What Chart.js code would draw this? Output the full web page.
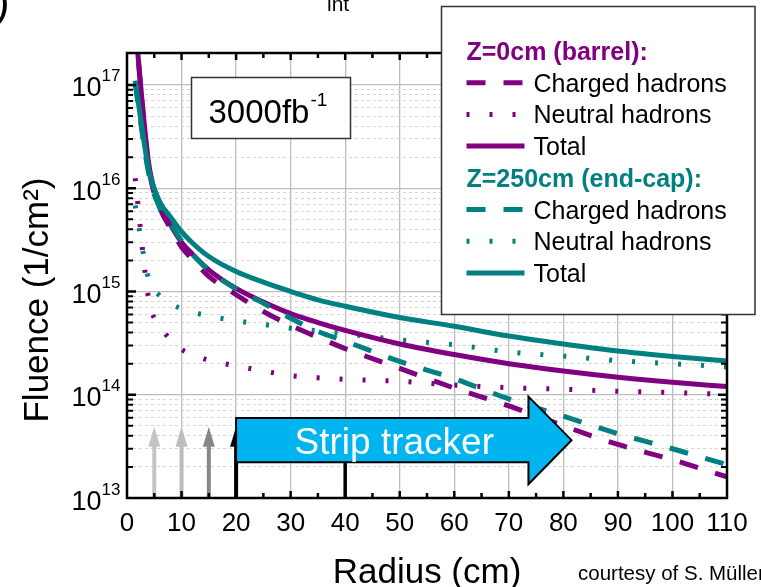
<!DOCTYPE html>
<html>
<head>
<meta charset="utf-8">
<title>Fluence vs radius</title>
<script src="https://cdn.jsdelivr.net/npm/chart.js@4.4.0/dist/chart.umd.min.js"></script>
<style>
    html, body { margin: 0; padding: 0; background: #fff; }
    #wrap { width: 761px; height: 587px; position: relative; overflow: hidden; }
</style>
</head>
<body>
<div id="wrap"><canvas id="fluenceChart" width="761" height="587"></canvas></div>
<script>
// Radius sampling points (cm)
const radius = [1.5, 4, 6, 8, 10, 12, 15, 20, 25, 30, 35, 40, 50, 60, 70, 80, 90, 100, 110];

// Z=0cm (barrel) fluence, 1/cm²
const barrelCharged = [3.7e17, 1.6e16, 6.5e15, 4.06e15, 2.7e15, 2.05e15, 1.4e15, 9.3e14, 6.4e14, 4.7e14, 3.6e14, 2.8e14, 1.8e14, 1.16e14, 7.8e13, 5.0e13, 3.3e13, 2.35e13, 1.6e13];
const barrelNeutral = [1.25e16, 8.3e14, 4.7e14, 3.4e14, 2.75e14, 2.45e14, 2.16e14, 1.9e14, 1.7e14, 1.53e14, 1.46e14, 1.41e14, 1.35e14, 1.24e14, 1.17e14, 1.13e14, 1.08e14, 1.05e14, 1.01e14];
const barrelTotal   = [3.8e17, 1.7e16, 7.0e15, 4.4e15, 3.0e15, 2.3e15, 1.62e15, 1.07e15, 7.9e14, 6.1e14, 5.0e14, 4.2e14, 3.1e14, 2.45e14, 2.0e14, 1.7e14, 1.48e14, 1.32e14, 1.2e14];

// Z=250cm (end-cap) fluence, 1/cm²
const endcapCharged = [1.03e17, 1.37e16, 6.45e15, 4.5e15, 3.1e15, 2.3e15, 1.6e15, 1.06e15, 7.7e14, 5.5e14, 4.1e14, 3.3e14, 2.1e14, 1.43e14, 9.1e13, 6.2e13, 4.2e13, 3.0e13, 2.1e13];
const endcapNeutral = [6.8e15, 1.3e15, 9.1e14, 7.6e14, 6.8e14, 6.3e14, 5.8e14, 5.2e14, 4.8e14, 4.4e14, 4.15e14, 3.9e14, 3.4e14, 3.05e14, 2.6e14, 2.37e14, 2.14e14, 2.0e14, 1.86e14];
const endcapTotal   = [1.1e17, 1.5e16, 7.4e15, 5.25e15, 3.8e15, 2.95e15, 2.18e15, 1.56e15, 1.23e15, 1.0e15, 8.3e14, 7.2e14, 5.6e14, 4.6e14, 3.7e14, 3.1e14, 2.65e14, 2.35e14, 2.12e14];

// Axis ticks
const xTickLabels = [0, 10, 20, 30, 40, 50, 60, 70, 80, 90, 100, 110];
const yDecades = [13, 14, 15, 16, 17];
const yMantissas = [1, 2, 3, 4, 5, 6, 7, 8, 9];

// Layer boundaries marked with arrows (cm)
const layerArrows = [5, 10, 15, 20];
const layerArrowColors = ['#c4c4c4', '#bdbdbd', '#878787', '#000000'];

const PURPLE = '#800080';
const TEAL = '#008080';
const DASHED = [19, 18];
const DOTTED = [3, 20];
const FONT = "'Liberation Sans', Arial, sans-serif";
const Y_MIN = 1e13, Y_MAX = 2.04e17;

const yTickValues = [];
yDecades.forEach(d => yMantissas.forEach(m => {
    const v = m * Math.pow(10, d);
    if (v >= Y_MIN && v < Y_MAX * 0.99) yTickValues.push(v);
}));

const isDecade = v => Math.abs(Math.log10(v) - Math.round(Math.log10(v))) < 1e-9;

function series(values) {
    return radius.map((r, i) => ({ x: r, y: values[i] }));
}

const legendGroups = [
    { title: 'Z=0cm (barrel):', color: PURPLE, sets: [0, 1, 2] },
    { title: 'Z=250cm (end-cap):', color: TEAL, sets: [3, 4, 5] }
];

// Arrows, boxes, frame, labels and legend on top of the curves
const decorPlugin = {
    id: 'fluenceDecor',
    afterDatasetsDraw(chart) {
        const { ctx, chartArea: area, scales: { x, y } } = chart;
        ctx.save();

        // layer arrows
        const tipY = y.getPixelForValue(4.9e13);
        layerArrows.forEach((r, i) => {
            const px = x.getPixelForValue(r);
            ctx.fillStyle = layerArrowColors[i];
            ctx.fillRect(px - 2, tipY + 18, 4, area.bottom - tipY - 18);
            ctx.beginPath();
            ctx.moveTo(px, tipY);
            ctx.lineTo(px - 6, tipY + 20);
            ctx.lineTo(px + 6, tipY + 20);
            ctx.closePath();
            ctx.fill();
        });

        // strip tracker arrow
        const bx0 = x.getPixelForValue(20), bx1 = x.getPixelForValue(73.6), tx = x.getPixelForValue(81.5);
        const byTop = y.getPixelForValue(5.95e13), byBot = y.getPixelForValue(2.22e13);
        const hyTop = y.getPixelForValue(9.6e13), hyBot = y.getPixelForValue(1.36e13);
        const ty = (byTop + byBot) / 2;
        ctx.fillStyle = '#000';
        ctx.fillRect(x.getPixelForValue(40) - 1.75, byBot, 3.5, area.bottom - byBot);
        ctx.beginPath();
        ctx.moveTo(bx0, byTop);
        ctx.lineTo(bx1, byTop);
        ctx.lineTo(bx1, hyTop);
        ctx.lineTo(tx, ty);
        ctx.lineTo(bx1, hyBot);
        ctx.lineTo(bx1, byBot);
        ctx.lineTo(bx0, byBot);
        ctx.closePath();
        ctx.fillStyle = '#00b4f0';
        ctx.fill();
        ctx.lineWidth = 2;
        ctx.strokeStyle = '#000';
        ctx.stroke();
        ctx.fillStyle = '#fff';
        ctx.font = '37px ' + FONT;
        ctx.textAlign = 'center';
        ctx.textBaseline = 'alphabetic';
        ctx.fillText('Strip tracker', x.getPixelForValue(49), ty + 13.5);

        // frame and inward ticks
        ctx.strokeStyle = '#000';
        ctx.lineWidth = 2.5;
        ctx.strokeRect(area.left, area.top, area.right - area.left, area.bottom - area.top);
        yTickValues.forEach(v => {
            const py = y.getPixelForValue(v);
            if (py < area.top + 2 || py > area.bottom - 2) return;
            const len = isDecade(v) ? 9 : 6;
            ctx.lineWidth = isDecade(v) ? 2.5 : 2;
            ctx.beginPath();
            ctx.moveTo(area.left, py); ctx.lineTo(area.left + len, py);
            ctx.moveTo(area.right, py); ctx.lineTo(area.right - len, py);
            ctx.stroke();
        });
        ctx.lineWidth = 2.5;
        for (let r = 5; r < 110; r += 5) {
            const px = x.getPixelForValue(r);
            const len = r % 10 === 0 ? 7 : 5;
            ctx.beginPath();
            ctx.moveTo(px, area.bottom); ctx.lineTo(px, area.bottom - len);
            ctx.moveTo(px, area.top); ctx.lineTo(px, area.top + len);
            ctx.stroke();
        }

        // tick labels
        ctx.fillStyle = '#000';
        ctx.textAlign = 'center';
        ctx.font = '26px ' + FONT;
        xTickLabels.forEach(v => ctx.fillText(String(v), x.getPixelForValue(v), 530.5));
        yDecades.forEach(d => {
            const py = y.getPixelForValue(Math.pow(10, d));
            ctx.textAlign = 'right';
            ctx.font = '27px ' + FONT;
            ctx.fillText('10', 101.5, py + 11.5);
            ctx.textAlign = 'left';
            ctx.font = '17px ' + FONT;
            ctx.fillText(String(d), 101.5, py - 3.5);
        });

        // axis titles
        ctx.font = '35px ' + FONT;
        ctx.textAlign = 'center';
        ctx.fillText('Radius (cm)', 427, 583);
        ctx.save();
        ctx.translate(47.5, 300);
        ctx.rotate(-Math.PI / 2);
        ctx.fillText('Fluence (1/cm\u00b2)', 0, 0);
        ctx.restore();

        ctx.textAlign = 'left';
        ctx.font = '20.5px ' + FONT;
        ctx.fillText('courtesy of S. M\u00fcller', 578, 579.5);
        ctx.font = '44px ' + FONT;
        ctx.fillText(')', -5, 16);
        ctx.font = '21px ' + FONT;
        ctx.fillText('int', 327, 11);

        // luminosity box
        ctx.fillStyle = '#fff';
        ctx.fillRect(191.5, 77.5, 159, 61);
        ctx.strokeStyle = '#333';
        ctx.lineWidth = 1.5;
        ctx.strokeRect(191.5, 77.5, 159, 61);
        ctx.fillStyle = '#000';
        ctx.font = '33px ' + FONT;
        ctx.fillText('3000fb', 208.5, 122.5);
        const w = ctx.measureText('3000fb').width;
        ctx.font = '19px ' + FONT;
        ctx.fillText('-1', 208.5 + w + 1, 105.5);

        // legend
        ctx.fillStyle = '#fff';
        ctx.fillRect(441.5, 6.5, 313.5, 308);
        ctx.strokeStyle = '#333';
        ctx.lineWidth = 1.5;
        ctx.strokeRect(441.5, 6.5, 313.5, 308);
        let rowY = 60;
        legendGroups.forEach(g => {
            ctx.font = 'bold 25px ' + FONT;
            ctx.fillStyle = g.color;
            ctx.fillText(g.title, 466.5, rowY);
            rowY += 31.7;
            g.sets.forEach(i => {
                const ds = chart.data.datasets[i];
                ctx.save();
                ctx.strokeStyle = ds.borderColor;
                ctx.lineWidth = ds.borderWidth;
                ctx.setLineDash(ds.borderDash || []);
                ctx.beginPath();
                ctx.moveTo(466.5, rowY - 9);
                ctx.lineTo(524.5, rowY - 9);
                ctx.stroke();
                ctx.restore();
                ctx.font = '25px ' + FONT;
                ctx.fillStyle = '#000';
                ctx.fillText(ds.label, 533.5, rowY);
                rowY += 31.7;
            });
        });

        ctx.restore();
    }
};

new Chart(document.getElementById('fluenceChart').getContext('2d'), {
    type: 'line',
    data: {
        datasets: [
            { label: 'Charged hadrons', data: series(barrelCharged), borderColor: PURPLE, borderDash: DASHED, borderWidth: 5, order: 3 },
            { label: 'Neutral hadrons', data: series(barrelNeutral), borderColor: PURPLE, borderDash: DOTTED, borderWidth: 5, order: 5 },
            { label: 'Total', data: series(barrelTotal), borderColor: PURPLE, borderWidth: 5, order: 4 },
            { label: 'Charged hadrons', data: series(endcapCharged), borderColor: TEAL, borderDash: DASHED, borderWidth: 5, order: 1 },
            { label: 'Neutral hadrons', data: series(endcapNeutral), borderColor: TEAL, borderDash: DOTTED, borderWidth: 5, order: 6 },
            { label: 'Total', data: series(endcapTotal), borderColor: TEAL, borderWidth: 5, order: 2 }
        ]
    },
    options: {
        responsive: false,
        animation: false,
        devicePixelRatio: 1,
        layout: { padding: { top: 53, right: 34, left: 0, bottom: 0 } },
        elements: {
            point: { radius: 0 },
            line: { cubicInterpolationMode: 'monotone', fill: false, borderCapStyle: 'butt', borderJoinStyle: 'round' }
        },
        plugins: {
            legend: { display: false },
            tooltip: { enabled: false }
        },
        scales: {
            x: {
                type: 'linear',
                min: 0,
                max: 110,
                afterFit: s => { s.height = 89; },
                ticks: { display: false, stepSize: 10 },
                grid: { color: '#bdbdbd', lineWidth: 1.3, drawTicks: false },
                border: { display: false }
            },
            y: {
                type: 'logarithmic',
                min: Y_MIN,
                max: Y_MAX,
                afterFit: s => { s.width = 127; },
                afterBuildTicks: s => { s.ticks = yTickValues.map(v => ({ value: v })); },
                ticks: { display: false },
                grid: {
                    drawTicks: false,
                    color: c => (c.tick && isDecade(c.tick.value)) ? '#bdbdbd' : '#d4d4d4',
                    lineWidth: c => (c.tick && isDecade(c.tick.value)) ? 1.3 : 1
                },
                border: {
                    display: false,
                    dash: c => (c.tick && !isDecade(c.tick.value)) ? [3, 3] : []
                }
            }
        }
    },
    plugins: [decorPlugin]
});
</script>
</body>
</html>
